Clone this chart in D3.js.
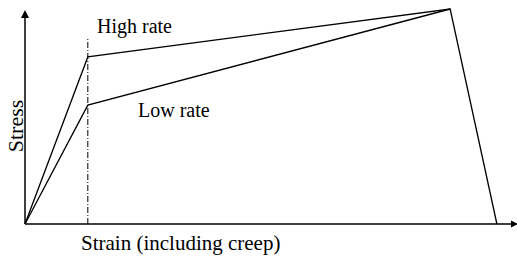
<!DOCTYPE html>
<html><head><meta charset="utf-8">
<script src="https://cdn.jsdelivr.net/npm/d3@7"></script>
<style>body{margin:0;background:#fff}svg{display:block}text{font-family:"Liberation Serif","Times New Roman",serif;fill:#000}</style>
</head><body><svg id="c" width="517" height="257"></svg>
<script>
// Data (relative units, 0-100)
const highStrain = [0, 12.9, 87.3, 96.9];
const highStress = [0, 77.7, 100, 0];
const lowStrain = [0, 12.9, 87.3];
const lowStress = [0, 55.3, 100];
const markStrain = 12.9;   // dash-dot reference line
const markTop = 87;
const labels = ["High rate", "Low rate"];
const xTitle = "Strain (including creep)";
const yTitle = "Stress";

const svg = d3.select("#c");
const x = d3.scaleLinear().domain([0, 100]).range([25, 512]);
const y = d3.scaleLinear().domain([0, 100]).range([224, 9]);

const line = d3.line().x(d => x(d[0])).y(d => y(d[1]));
const zip = (a, b) => a.map((v, i) => [v, b[i]]);

// axes
svg.append("line").attr("x1", x(0)).attr("y1", y(0)).attr("x2", x(0)).attr("y2", 14)
  .attr("stroke", "#000").attr("stroke-width", 1.5);
svg.append("path").attr("d", `M${x(0)},10 L${x(0)-4},18 L${x(0)+4},18Z`).attr("fill", "#000");
svg.append("line").attr("x1", x(0)).attr("y1", y(0)).attr("x2", 512).attr("y2", y(0))
  .attr("stroke", "#000").attr("stroke-width", 1.5);
svg.append("path").attr("d", `M518,${y(0)} L511,${y(0)-3.5} L511,${y(0)+3.5}Z`).attr("fill", "#000");

// dash-dot reference
svg.append("line").attr("x1", x(markStrain)).attr("x2", x(markStrain))
  .attr("y1", y(0)).attr("y2", y(markTop))
  .attr("stroke", "#000").attr("stroke-width", 1).attr("stroke-dasharray", "6,2,1,2");

svg.append("path").attr("d", line(zip(highStrain, highStress)))
  .attr("fill", "none").attr("stroke", "#000").attr("stroke-width", 1.3);
svg.append("path").attr("d", line(zip(lowStrain, lowStress)))
  .attr("fill", "none").attr("stroke", "#000").attr("stroke-width", 1.3);

svg.append("text").attr("x", 97).attr("y", 33).attr("font-size", 20).text(labels[0]);
svg.append("text").attr("x", 138).attr("y", 117).attr("font-size", 20).text(labels[1]);
svg.append("text").attr("x", 81).attr("y", 250).attr("font-size", 21).text(xTitle);
svg.append("text").attr("transform", "translate(23,126) rotate(-90)")
  .attr("text-anchor", "middle").attr("font-size", 22).text(yTitle);
</script></body></html>
